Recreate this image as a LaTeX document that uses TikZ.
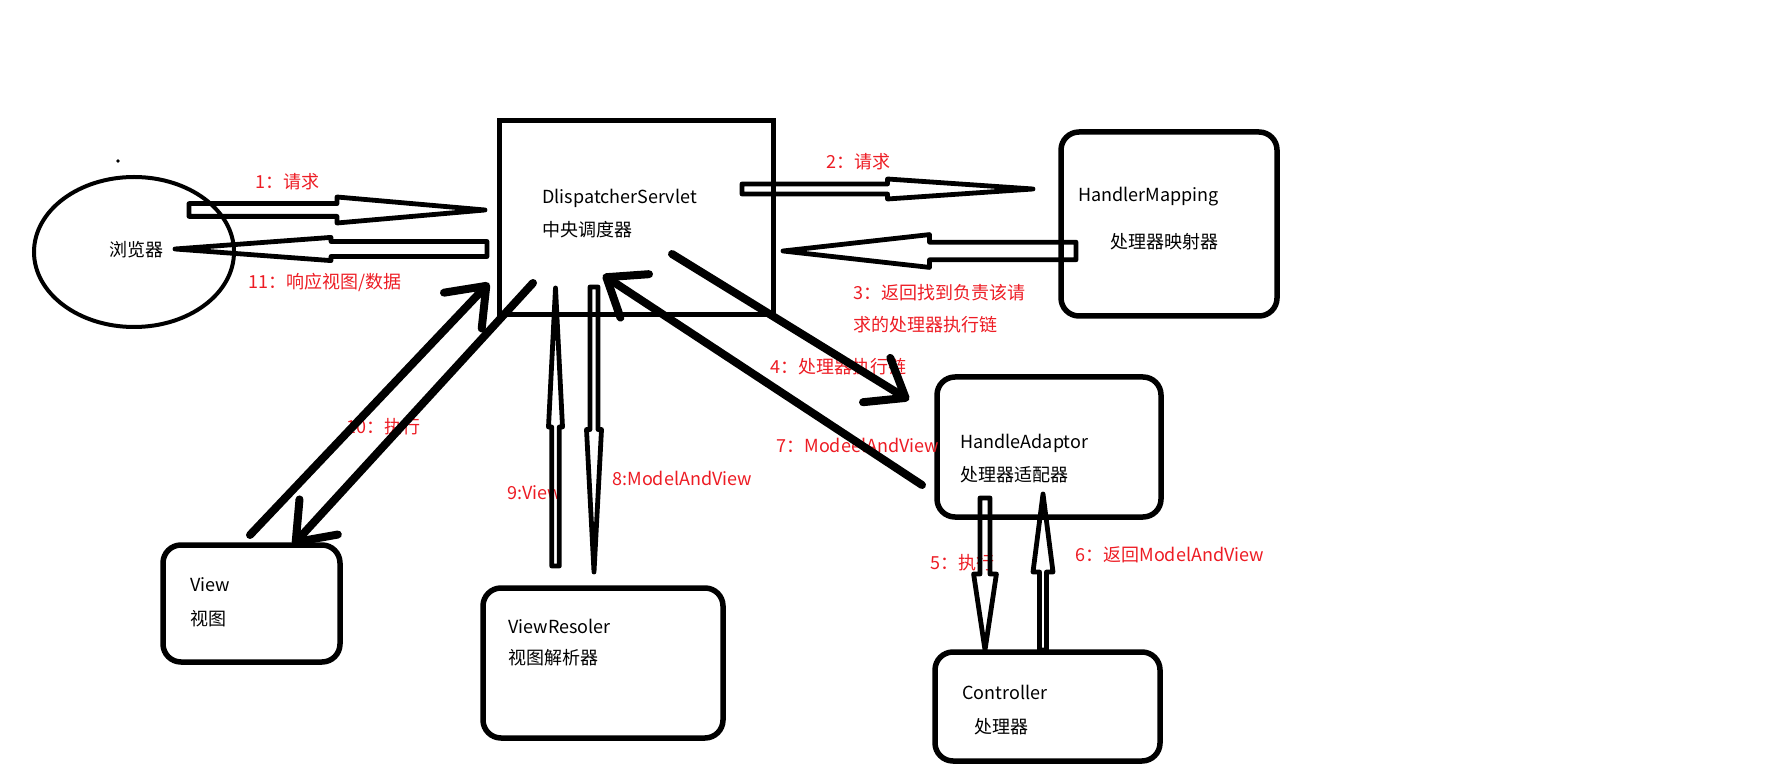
\documentclass[tikz,border=0pt]{standalone}
\usepackage{fontspec}
\usepackage{tikz}
\usetikzlibrary{arrows.meta, calc, shapes.geometric}
\setmainfont{Noto Sans CJK SC}
\definecolor{inkblack}{HTML}{000000}
\definecolor{paintred}{HTML}{ED1C24}

% outline arrow: tail, tip, shaft half width, head half width
\newcommand{\hollowarrow}[4]{%
  \draw[hollow] ($(#1)!#3!90:(#2)$)
    -- ($(#1)!0.5!(#2)!#3!90:(#2)$)
    -- ($(#1)!0.5!(#2)!#4!90:(#2)$)
    -- (#2)
    -- ($(#1)!0.5!(#2)!#4!-90:(#2)$)
    -- ($(#1)!0.5!(#2)!#3!-90:(#2)$)
    -- ($(#1)!#3!-90:(#2)$)
    -- cycle;}

\begin{document}
\begin{tikzpicture}[
    x=0.5pt, y=-0.5pt,
    box/.style={draw=inkblack, line width=2.75pt, rounded corners=9pt, inner sep=0pt},
    sharpbox/.style={draw=inkblack, line width=2.5pt, inner sep=0pt},
    browser/.style={ellipse, draw=inkblack, line width=2pt, inner sep=0pt, minimum width=100pt, minimum height=75pt},
    blacktext/.style={anchor=west, inner sep=0pt, font=\fontsize{9}{11}\selectfont},
    redtext/.style={blacktext, text=paintred},
    hollow/.style={draw=inkblack, line width=2.4pt, line join=round},
    strokearrow/.style={draw=inkblack, line width=4pt, line cap=round, -{Straight Barb[length=17pt, width=26pt, round]}}
]
\useasboundingbox (0,0) rectangle (1765,774);

% Nodes
\node[browser] (browser) at (134,252) {};
\node[sharpbox, minimum width=137pt, minimum height=97pt] (dispatcher) at (636,218) {};
\node[box, minimum width=108pt, minimum height=92pt] (mapping) at (1169,224) {};
\node[box, minimum width=112pt, minimum height=70pt] (adaptor) at (1049,447) {};
\node[box, minimum width=112.5pt, minimum height=54.5pt] (controller) at (1047.5,706.5) {};
\node[box, minimum width=88.5pt, minimum height=58.5pt] (view) at (251.5,603.5) {};
\node[box, minimum width=120pt, minimum height=75pt] (resolver) at (603,663) {};
\node[circle, fill=inkblack, inner sep=0.7pt] (speck) at (118,161) {};

% Texts
\node[blacktext] (browsertxt) at (109,250) {浏览器};
\node[blacktext] (dispatchername) at (542,198) {DlispatcherServlet};
\node[blacktext] (dispatchercn) at (542,230) {中央调度器};
\node[blacktext] (mappingname) at (1078,197) {HandlerMapping};
\node[blacktext] (mappingcn) at (1110,242) {处理器映射器};
\node[blacktext] (adaptorname) at (960,443) {HandleAdaptor};
\node[blacktext] (adaptorcn) at (960,475) {处理器适配器};
\node[blacktext] (controllername) at (962,692) {Controller};
\node[blacktext] (controllercn) at (974,727) {处理器};
\node[blacktext] (viewname) at (190,585) {View};
\node[blacktext] (viewcn) at (190,619) {视图};
\node[blacktext] (resolvername) at (508,626) {ViewResoler};
\node[blacktext] (resolvercn) at (508,658) {视图解析器};

% Step labels
\node[redtext] (step1) at (255,182) {1：请求};
\node[redtext] (step11) at (248,282) {11：响应视图/数据};
\node[redtext] (step2) at (826,162) {2：请求};
\node[redtext, align=left, font=\fontsize{9}{16}\selectfont] (step3) at (853,309) {3：返回找到负责该请\\求的处理器执行链};
\node[redtext] (step4) at (770,367) {4：处理器执行链};
\node[redtext] (step7) at (776,445) {7：ModeelAndView};
\node[redtext] (step10) at (346,427) {10：执行};
\node[redtext] (step9) at (507,493) {9:View};
\node[redtext] (step8) at (612,478) {8:ModelAndView};
\node[redtext] (step5) at (930,563) {5：执行};
\node[redtext] (step6) at (1075,555) {6：返回ModelAndView};

% Outline arrows
\coordinate (req1a) at (189,210);  \coordinate (req1b) at (485,210);
\coordinate (resp11a) at (487,249); \coordinate (resp11b) at (175,249);
\coordinate (req2a) at (742,189);  \coordinate (req2b) at (1033,189);
\coordinate (ret3a) at (1076,251); \coordinate (ret3b) at (783,251);
\coordinate (view9a) at (555.5,566); \coordinate (view9b) at (555.5,288);
\coordinate (mav8a) at (594,287);  \coordinate (mav8b) at (594,572);
\coordinate (run5a) at (985,498);  \coordinate (run5b) at (985,650);
\coordinate (mav6a) at (1043,650); \coordinate (mav6b) at (1043,494);
\hollowarrow{req1a}{req1b}{3.2pt}{6.5pt}
\hollowarrow{resp11a}{resp11b}{3.75pt}{5.8pt}
\hollowarrow{req2a}{req2b}{2.5pt}{5pt}
\hollowarrow{ret3a}{ret3b}{4.4pt}{8.2pt}
\hollowarrow{view9a}{view9b}{1.9pt}{3.5pt}
\hollowarrow{mav8a}{mav8b}{2pt}{3.75pt}
\hollowarrow{run5a}{run5b}{2.5pt}{5.7pt}
\hollowarrow{mav6a}{mav6b}{1.75pt}{5pt}

% Stroke arrows
\coordinate (chain4a) at (672,254);  \coordinate (chain4b) at (909,400);
\coordinate (mav7a) at (922,485);    \coordinate (mav7b) at (603,275);
\coordinate (run10a) at (250,535);   \coordinate (run10b) at (489,283);
\coordinate (back10a) at (533,283);  \coordinate (back10b) at (293,545);
\draw[strokearrow] (chain4a) -- (chain4b);
\draw[strokearrow] (mav7a) -- (mav7b);
\draw[strokearrow] (run10a) -- (run10b);
\draw[strokearrow] (back10a) -- (back10b);

\end{tikzpicture}
\end{document}
